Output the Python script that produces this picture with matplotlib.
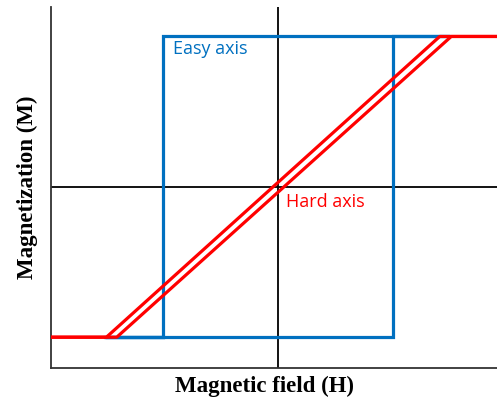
import matplotlib
matplotlib.use("Agg")
import matplotlib.pyplot as plt

# Easy axis: square loop
easy_H = [-1.5, 1.0, 1.0, 1.5, 1.0, -1.0, -1.0, -1.5, -1.0]
easy_M = [-1.0, -1.0, 1.0, 1.0, 1.0, 1.0, -1.0, -1.0, -1.0]
# Hard axis: two parallel sheared branches + saturation
hard_left_H = [-2.0, -1.49, 1.41, 2.0]
hard_left_M = [-1.0, -1.0, 1.0, 1.0]
hard_right_H = [-2.0, -1.40, 1.51, 2.0]
hard_right_M = [-1.0, -1.0, 1.0, 1.0]

blue = "#0070C0"
red = "#FF0000"

fig = plt.figure(figsize=(4.97, 3.97), dpi=100)
ax = fig.add_axes([0.1026, 0.073, 0.8974, 0.909])
ax.set_xlim(-1.972, 1.908)
ax.set_ylim(-1.205, 1.195)

ax.axvline(0, color="black", lw=1.3, zorder=1)
ax.axhline(0, color="black", lw=1.3, zorder=1)

ax.plot(easy_H, easy_M, color=blue, lw=2.3, zorder=2, solid_joinstyle="miter")
ax.plot(hard_left_H, hard_left_M, color=red, lw=2.3, zorder=3)
ax.plot(hard_right_H, hard_right_M, color=red, lw=2.3, zorder=3)

ax.text(-0.91, 0.915, "Easy axis", color=blue, fontsize=13, family="Open Sans",
        va="center", ha="left")
ax.text(0.07, -0.1, "Hard axis", color=red, fontsize=13, family="Open Sans",
        va="center", ha="left")

for s in ["top", "right"]:
    ax.spines[s].set_visible(False)
for s in ["left", "bottom"]:
    ax.spines[s].set_linewidth(1.3)
    ax.spines[s].set_color("#333333")
ax.set_xticks([])
ax.set_yticks([])

ax.set_xlabel("Magnetic field (H)", family="Liberation Serif", fontweight="bold",
              fontsize=16.5)
ax.xaxis.set_label_coords(0.478, -0.022, transform=ax.transAxes)
ax.xaxis.label.set_va("top")
ax.set_ylabel("Magnetization (M)", family="Liberation Serif", fontweight="bold",
              fontsize=16.5, labelpad=9)

fig.savefig("out.png", dpi=100)
